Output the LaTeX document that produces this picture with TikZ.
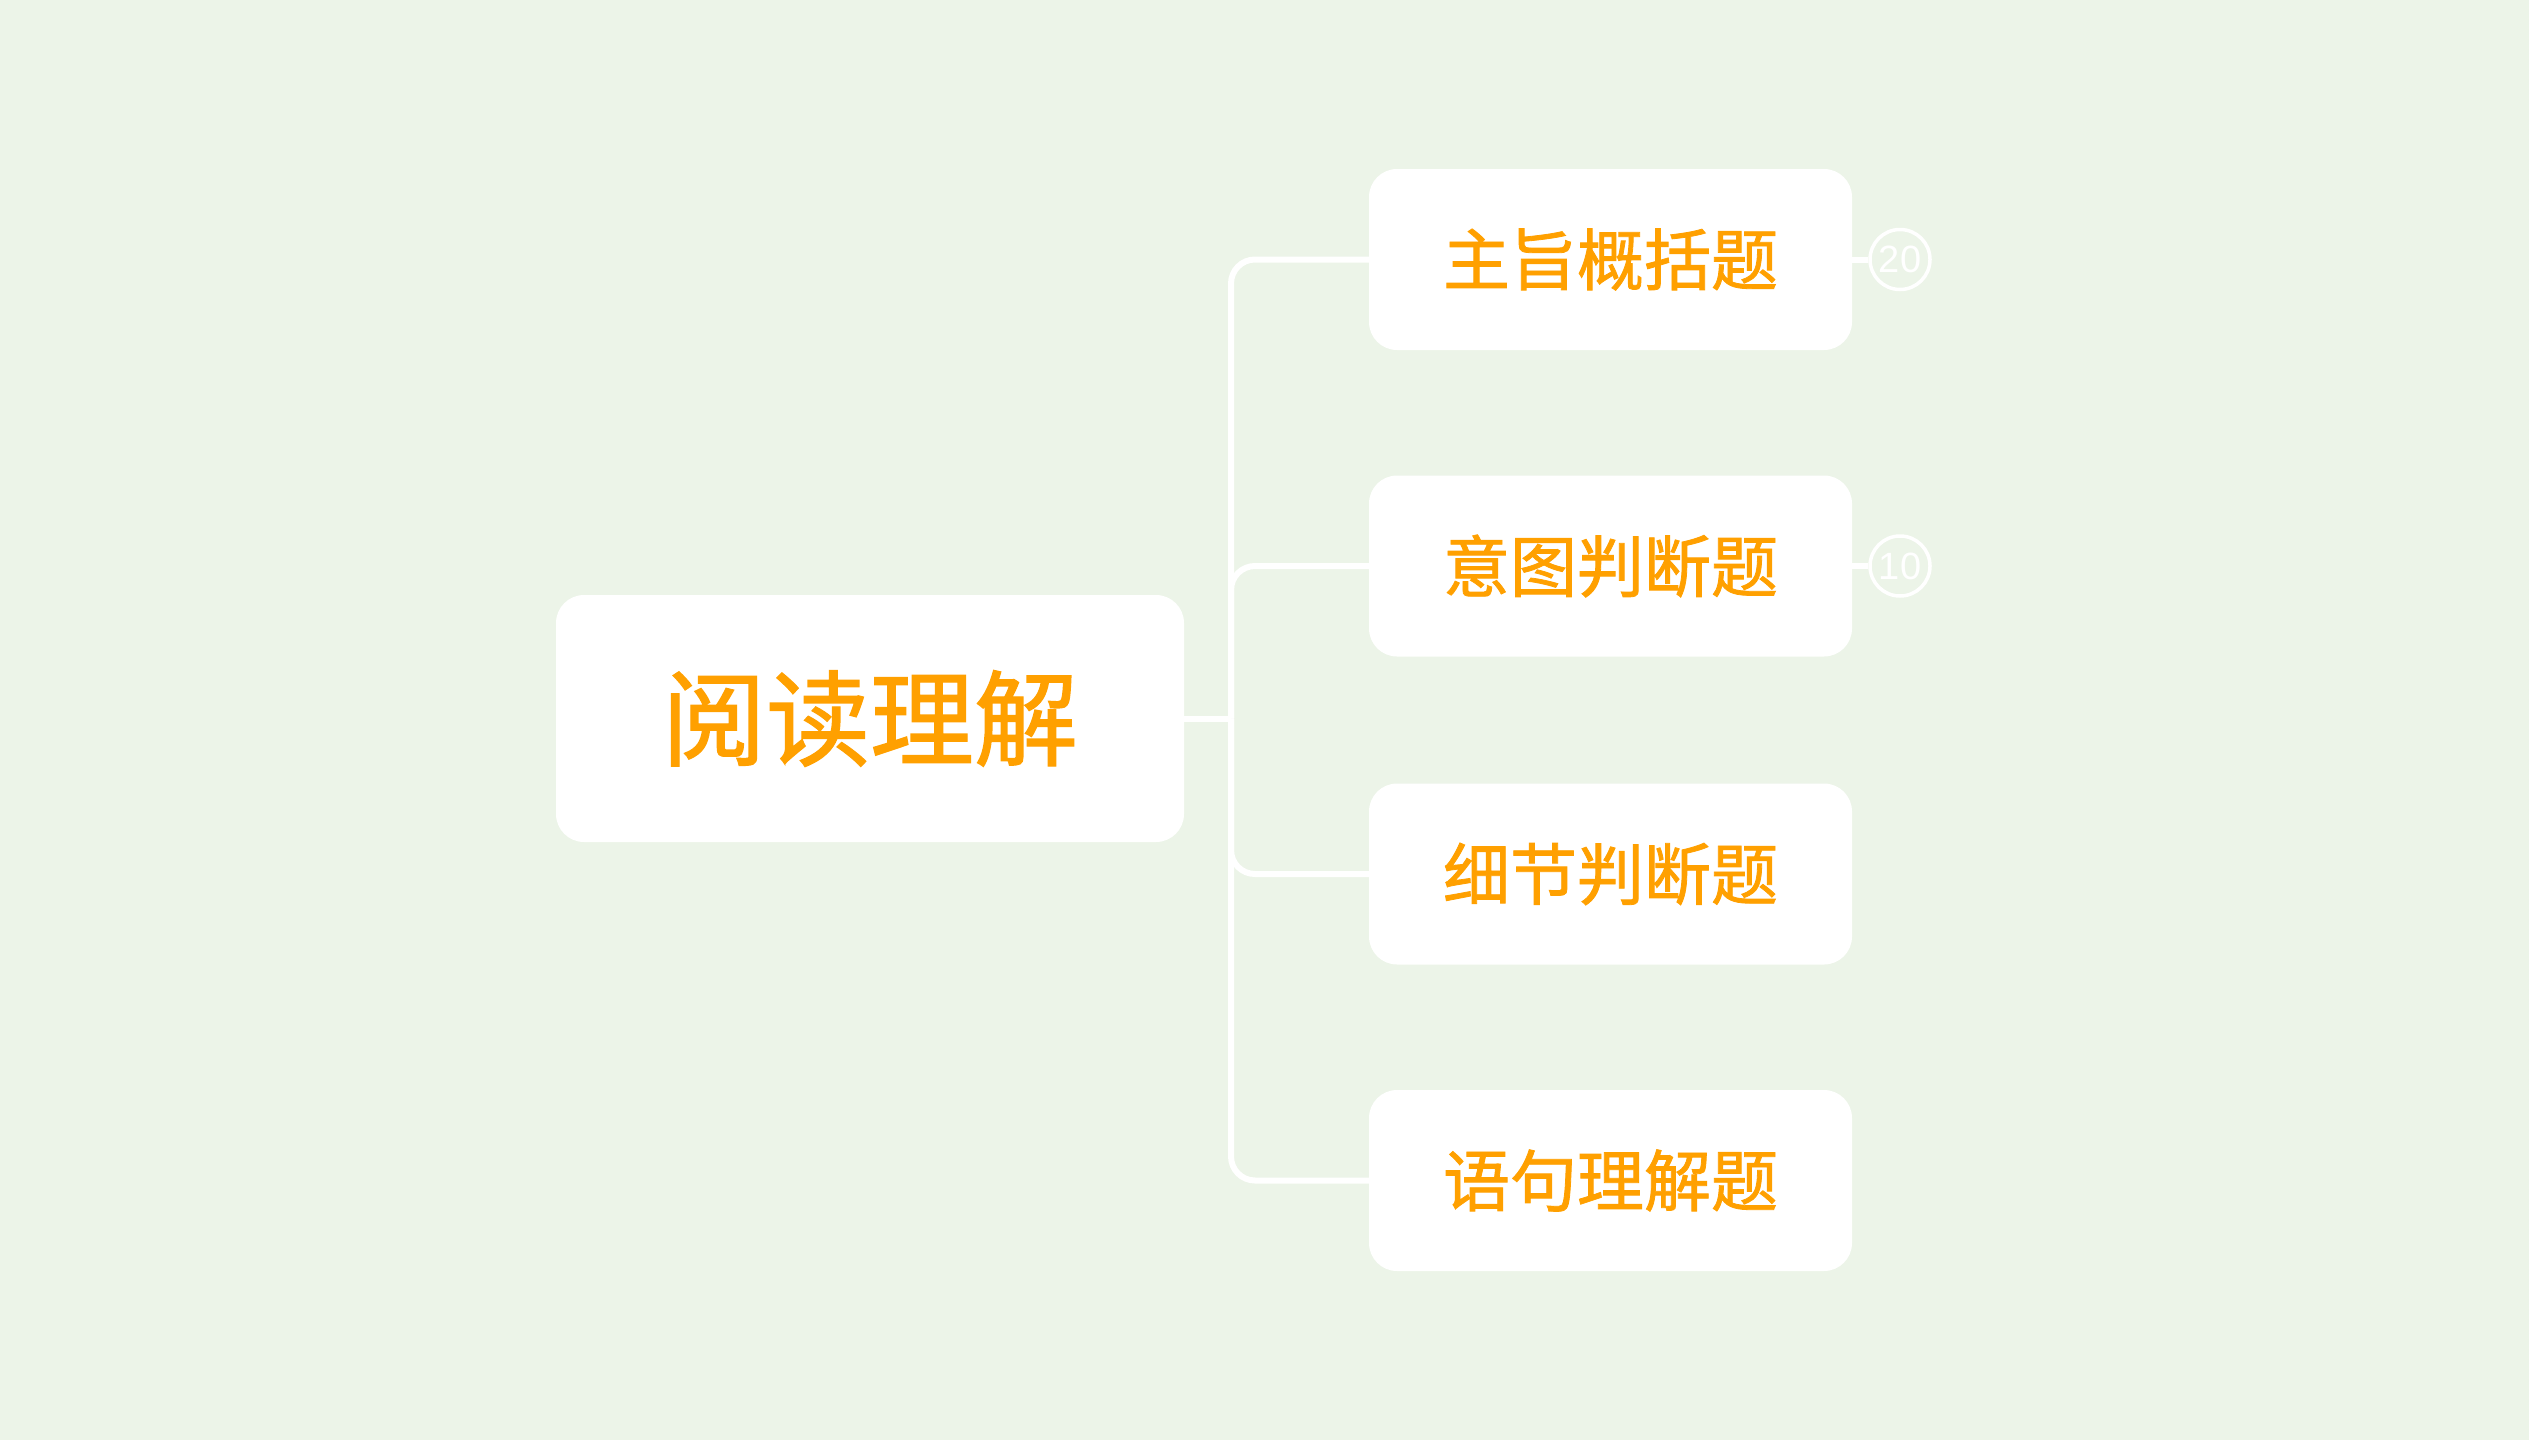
\documentclass[tikz,border=0pt]{standalone}
\usepackage{fontspec}
\setmainfont{Liberation Sans}
\newfontfamily\cjk[FakeBold=1.2]{Noto Sans CJK SC}
\definecolor{bgc}{HTML}{ECF4E8}
\definecolor{txtc}{HTML}{FFA000}
\begin{document}
\begin{tikzpicture}[x=1pt,y=-1pt,
  rootbox/.style={fill=white,rounded corners=28pt,minimum width=628pt,minimum height=247pt,inner sep=0pt,
    text=txtc,font={\cjk\fontsize{104}{110}\selectfont}},
  childbox/.style={fill=white,rounded corners=28pt,minimum width=483pt,minimum height=181pt,inner sep=0pt,
    text=txtc,font={\cjk\fontsize{67}{72}\selectfont}},
  conn/.style={draw=white,line width=6pt,rounded corners=24pt},
  badge/.style={circle,draw=white,line width=3.5pt,minimum size=60pt,inner sep=0pt,text=white,
    font={\fontsize{38}{40}\selectfont}}]
\fill[bgc] (0,0) rectangle (2529,1440);
\useasboundingbox (0,0) rectangle (2529,1440);
\node[rootbox] (root) at (870,718.5) {阅读理解};
\node[childbox] (c1) at (1610.5,259.5) {主旨概括题};
\node[childbox] (c2) at (1610.5,566) {意图判断题};
\node[childbox] (c3) at (1610.5,874) {细节判断题};
\node[childbox] (c4) at (1610.5,1180.5) {语句理解题};
\coordinate (J) at (1231,718.5);
\node[badge] (b1) at (1900,259.5) {20};
\node[badge] (b2) at (1900,566) {10};
\draw[conn] (root.east) -- (J);
\draw[conn] (J) |- (c1.west);
\draw[conn] (J) |- (c2.west);
\draw[conn] (J) |- (c3.west);
\draw[conn] (J) |- (c4.west);
\draw[conn] (c1.east) -- (b1.west);
\draw[conn] (c2.east) -- (b2.west);
\end{tikzpicture}
\end{document}
